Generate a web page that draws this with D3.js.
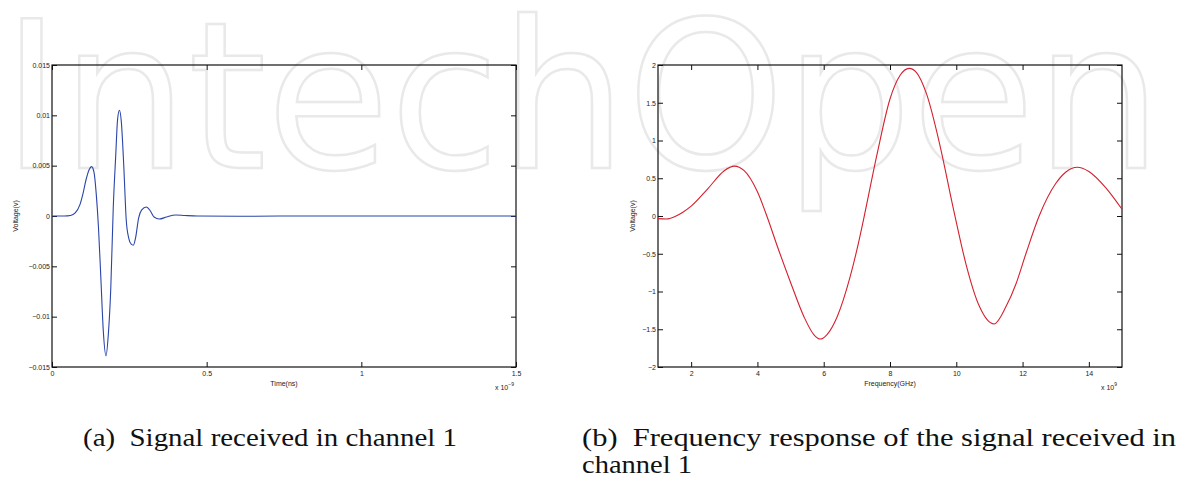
<!DOCTYPE html>
<html>
<head>
<meta charset="utf-8">
<script src="https://cdn.jsdelivr.net/npm/d3@7"></script>
<style>
  body { margin: 0; background: #fff; }
  svg { display: block; }
  .tick text { font-family: "Liberation Sans", Arial, sans-serif; font-size: 7px; fill: #222; }
  .tick line { stroke: #111; }
  .lbl { font-family: "Liberation Sans", Arial, sans-serif; font-size: 7px; fill: #222; }
  .cap { font-family: "Liberation Serif", "Times New Roman", serif; font-size: 26px; fill: #111; }
</style>
</head>
<body>
<div id="chart"></div>
<script>
// (a) received signal, time in ns
var timeNs = [0, 0.04, 0.06, 0.075, 0.09, 0.10, 0.11, 0.12, 0.128, 0.136, 0.143, 0.150, 0.158, 0.166, 0.1746,
  0.182, 0.190, 0.198, 0.206, 0.212, 0.218, 0.224, 0.232, 0.240, 0.248, 0.256, 0.263, 0.270, 0.280, 0.290,
  0.305, 0.318, 0.330, 0.347, 0.37, 0.40, 0.43, 0.47, 0.6, 0.8, 1.0, 1.3, 1.5];
var voltA = [0, 0, 0.00005, 0.0003, 0.0011, 0.0022, 0.0036, 0.0046, 0.0049, 0.0043, 0.0022, -0.0010, -0.0062, -0.0115, -0.0139,
  -0.0118, -0.0072, 0.0008, 0.0060, 0.0096, 0.0105, 0.0094, 0.0050, -0.0004, -0.0022, -0.0028, -0.0029, -0.0022, -0.0002, 0.0006,
  0.0009, 0.0005, -0.0001, -0.0003, -0.0001, 0.0001, 0.00005, 0, -0.00003, 0, 0, 0, 0];
var xTicksA = [0, 0.5, 1, 1.5];
var xTickLabelsA = ["0", "0.5", "1", "1.5"];
var yTicksA = [-0.015, -0.01, -0.005, 0, 0.005, 0.01, 0.015];
var yTickLabelsA = ["\u22120.015", "\u22120.01", "\u22120.005", "0", "0.005", "0.01", "0.015"];

// (b) frequency response, frequency in GHz
var freqGHz = [1.0, 1.25, 1.5, 1.75, 2.0, 2.5, 3.0, 3.3, 3.6, 4.0, 4.3, 4.6, 5.0, 5.4, 5.7, 5.9, 6.1, 6.4, 6.8, 7.0,
  7.2, 7.6, 8.0, 8.3, 8.58, 8.8, 9.1, 9.5, 9.9, 10.0, 10.3, 10.7, 11.14, 11.5, 11.8, 12.1, 12.5, 13.0, 13.3, 13.65, 14.0, 14.5, 15.0];
var voltB = [-0.035, -0.04, -0.01, 0.05, 0.13, 0.36, 0.60, 0.66, 0.60, 0.32, -0.02, -0.40, -0.88, -1.33, -1.57, -1.63, -1.57, -1.34, -0.80, -0.45,
  -0.05, 0.80, 1.55, 1.86, 1.955, 1.90, 1.62, 0.95, 0.12, -0.08, -0.65, -1.20, -1.43, -1.20, -0.90, -0.50, 0.00, 0.43, 0.58, 0.645, 0.59, 0.38, 0.09];
var xTicksB = [2, 4, 6, 8, 10, 12, 14];
var xTickLabelsB = ["2", "4", "6", "8", "10", "12", "14"];
var yTicksB = [-2, -1.5, -1, -0.5, 0, 0.5, 1, 1.5, 2];
var yTickLabelsB = ["\u22122", "\u22121.5", "\u22121", "\u22120.5", "0", "0.5", "1", "1.5", "2"];

var w = 1180, h = 481;
var svg = d3.select("#chart").append("svg").attr("width", w).attr("height", h);

// faint publisher watermark behind everything
svg.append("text")
  .attr("x", 2).attr("y", 168)
  .attr("textLength", 1160).attr("lengthAdjust", "spacingAndGlyphs")
  .style("font-family", "'DejaVu Sans', sans-serif").style("font-size", "205px")
  .style("fill", "none").style("stroke", "#e9e9e9").style("stroke-width", 2.5)
  .text("IntechOpen");

function panel(opt) {
  var x = d3.scaleLinear().domain(opt.xDomain).range([opt.left, opt.right]);
  var y = d3.scaleLinear().domain(opt.yDomain).range([opt.bottom, opt.top]);
  var g = svg.append("g");

  g.append("g").attr("transform", "translate(0," + opt.bottom + ")")
    .call(d3.axisBottom(x).tickValues(opt.xTicks).tickSizeInner(-5).tickSizeOuter(0).tickPadding(4)
      .tickFormat(function(d, i) { return opt.xLabels[i]; }));
  g.append("g").attr("transform", "translate(0," + opt.top + ")")
    .call(d3.axisTop(x).tickValues(opt.xTicks).tickSizeInner(-5).tickSizeOuter(0).tickFormat(""));
  g.append("g").attr("transform", "translate(" + opt.left + ",0)")
    .call(d3.axisLeft(y).tickValues(opt.yTicks).tickSizeInner(-5).tickSizeOuter(0).tickPadding(2)
      .tickFormat(function(d, i) { return opt.yLabels[i]; }));
  g.append("g").attr("transform", "translate(" + opt.right + ",0)")
    .call(d3.axisRight(y).tickValues(opt.yTicks).tickSizeInner(-5).tickSizeOuter(0).tickFormat(""));
  g.selectAll(".domain").remove();

  g.append("rect")
    .attr("x", opt.left).attr("y", opt.top)
    .attr("width", opt.right - opt.left).attr("height", opt.bottom - opt.top)
    .attr("fill", "none").attr("stroke", "#111").attr("stroke-width", 1.2);

  var line = d3.line()
    .x(function(d) { return x(d[0]); })
    .y(function(d) { return y(d[1]); })
    .curve(d3.curveMonotoneX);
  g.append("path")
    .datum(d3.zip(opt.xs, opt.ys))
    .attr("d", line)
    .attr("fill", "none").attr("stroke", opt.color).attr("stroke-width", 1.1);

  // axis titles
  g.append("text").attr("class", "lbl")
    .attr("x", (opt.left + opt.right) / 2).attr("y", opt.bottom + 19)
    .attr("text-anchor", "middle").text(opt.xTitle);
  g.append("text").attr("class", "lbl")
    .attr("transform", "translate(" + opt.yTitleX + "," + ((opt.top + opt.bottom) / 2) + ") rotate(-90)")
    .attr("text-anchor", "middle").text("Voltage(v)");

  // exponent note
  var ex = g.append("text").attr("class", "lbl")
    .attr("x", opt.right - 21).attr("y", opt.bottom + 23);
  ex.append("tspan").text("x 10");
  ex.append("tspan").attr("dy", -4).style("font-size", "5px").text(opt.exponent);
}

panel({
  left: 52, right: 516, top: 65, bottom: 367,
  xDomain: [0, 1.5], yDomain: [-0.015, 0.015],
  xTicks: xTicksA, xLabels: xTickLabelsA, yTicks: yTicksA, yLabels: yTickLabelsA,
  xs: timeNs, ys: voltA, color: "#2a45a8",
  xTitle: "Time(ns)", yTitleX: 18, exponent: "\u22129"
});

panel({
  left: 658, right: 1122, top: 65, bottom: 367,
  xDomain: [1, 15], yDomain: [-2, 2],
  xTicks: xTicksB, xLabels: xTickLabelsB, yTicks: yTicksB, yLabels: yTickLabelsB,
  xs: freqGHz, ys: voltB, color: "#d4202e",
  xTitle: "Frequency(GHz)", yTitleX: 635, exponent: "9"
});

// sub-figure captions
svg.append("text").attr("class", "cap")
  .attr("x", 83).attr("y", 446)
  .attr("textLength", 374).attr("lengthAdjust", "spacingAndGlyphs")
  .text("(a)\u00a0 Signal received in channel 1");
svg.append("text").attr("class", "cap")
  .attr("x", 582).attr("y", 446)
  .attr("textLength", 594).attr("lengthAdjust", "spacingAndGlyphs")
  .text("(b)\u00a0 Frequency response of the signal received in");
svg.append("text").attr("class", "cap")
  .attr("x", 582).attr("y", 473)
  .attr("textLength", 110).attr("lengthAdjust", "spacingAndGlyphs")
  .text("channel 1");
</script>
</body>
</html>
